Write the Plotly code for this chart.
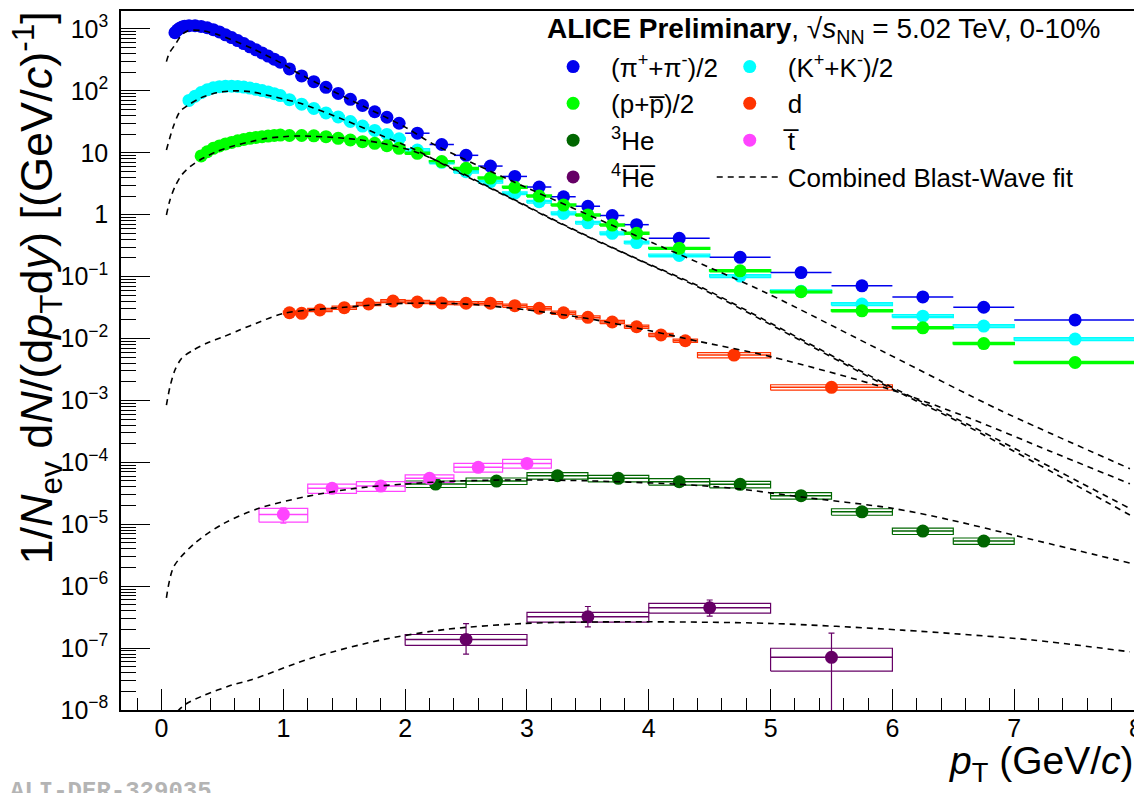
import plotly.graph_objects as go

FONT = "Liberation Sans, Arial, Helvetica, sans-serif"

# ---------------- data ----------------
pi_pt = [0.11, 0.13, 0.15, 0.17, 0.19, 0.225, 0.275, 0.325, 0.375, 0.425, 0.475, 0.525, 0.575,
         0.625, 0.675, 0.725, 0.775, 0.825, 0.875, 0.925, 0.975,
         1.05, 1.15, 1.25, 1.35, 1.45, 1.55, 1.65, 1.75, 1.85, 1.95,
         2.1, 2.3, 2.5, 2.7, 2.9, 3.1, 3.3, 3.5, 3.7, 3.9,
         4.25, 4.75, 5.25, 5.75, 6.25, 6.75, 7.5]
pi_hw = [0.01] * 5 + [0.025] * 16 + [0.05] * 10 + [0.1] * 10 + [0.25] * 6 + [0.5]
pi_y = [870, 960, 1030, 1080, 1110, 1130, 1130, 1100, 1045, 975, 895, 805, 725,
        650, 580, 515, 460, 410, 365, 325, 290,
        226, 174, 141, 114, 91, 73, 58, 46, 37.5, 30,
        20.7, 13.6, 9.1, 6.1, 4.15, 2.8, 1.95, 1.37, 0.97, 0.69,
        0.416, 0.205, 0.116, 0.071, 0.047, 0.032, 0.020]

ka_pt = [0.225, 0.275, 0.325, 0.375, 0.425, 0.475, 0.525, 0.575, 0.625, 0.675, 0.725, 0.775,
         0.825, 0.875, 0.925, 0.975,
         1.05, 1.15, 1.25, 1.35, 1.45, 1.55, 1.65, 1.75, 1.85, 1.95,
         2.1, 2.3, 2.5, 2.7, 2.9, 3.1, 3.3, 3.5, 3.7, 3.9,
         4.25, 4.75, 5.25, 5.75, 6.25, 6.75, 7.5]
ka_hw = [0.025] * 16 + [0.05] * 10 + [0.1] * 10 + [0.25] * 6 + [0.5]
ka_y = [70, 82, 94, 104, 112, 117, 119, 119, 118, 115, 111, 106, 101, 96, 90, 84,
        72, 61, 52, 44, 38, 32, 27, 23, 19.8, 16.8,
        11.1, 7.0, 4.95, 3.41, 2.22, 1.62, 1.05, 0.74, 0.50, 0.355,
        0.22, 0.102, 0.058, 0.036, 0.023, 0.0159, 0.0098]
ka_sys = 0.05

pr_pt = [0.325, 0.375, 0.425, 0.475, 0.525, 0.575, 0.625, 0.675, 0.725, 0.775, 0.825, 0.875,
         0.925, 0.975,
         1.05, 1.15, 1.25, 1.35, 1.45, 1.55, 1.65, 1.75, 1.85, 1.95,
         2.1, 2.3, 2.5, 2.7, 2.9, 3.1, 3.3, 3.5, 3.7, 3.9,
         4.25, 4.75, 5.25, 5.75, 6.25, 6.75, 7.5]
pr_hw = [0.025] * 14 + [0.05] * 10 + [0.1] * 10 + [0.25] * 6 + [0.5]
pr_y = [8.9, 10.4, 11.8, 12.9, 13.9, 14.7, 15.6, 16.4, 17.1, 17.7, 18.2, 18.6, 19.0, 19.3,
        19.0, 19.0, 18.8, 18.2, 17.1, 16.1, 15.1, 14.2, 13.0, 11.8,
        9.8, 7.2, 5.6, 3.9, 2.77, 2.0, 1.43, 0.99, 0.68, 0.50,
        0.286, 0.124, 0.057, 0.028, 0.0149, 0.0083, 0.0041]
pr_sys = 0.035

d_pt = [1.05, 1.15, 1.3, 1.5, 1.7, 1.9, 2.1, 2.3, 2.5, 2.7, 2.9, 3.1, 3.3, 3.5, 3.7, 3.9,
        4.1, 4.3, 4.7, 5.5]
d_hw = [0.05, 0.05] + [0.1] * 16 + [0.3, 0.5]
d_y = [0.0261, 0.0255, 0.0289, 0.0315, 0.0361, 0.0403, 0.0389, 0.0375, 0.0371, 0.0371,
       0.0339, 0.0308, 0.0261, 0.0220, 0.0185, 0.0155, 0.0114, 0.0092, 0.0054, 0.00163]
d_sys = [0.06] * 18 + [0.10, 0.10]

he3_pt = [2.25, 2.75, 3.25, 3.75, 4.25, 4.75, 5.25, 5.75, 6.25, 6.75]
he3_hw = [0.25] * 10
he3_y = [4.46e-5, 4.99e-5, 6.08e-5, 5.51e-5, 4.86e-5, 4.41e-5, 2.89e-5, 1.59e-5, 7.76e-6, 5.36e-6]
he3_sys = [0.12] * 10

t_pt = [1.0, 1.4, 1.8, 2.2, 2.6, 3.0]
t_hw = [0.2] * 6
t_y = [1.44e-5, 3.8e-5, 4.14e-5, 5.51e-5, 8.3e-5, 9.6e-5]
t_stat = [4.0e-6, 3.0e-6, 3.0e-6, 3.5e-6, 5.0e-6, 6.0e-6]
t_sys = [0.25, 0.17, 0.18, 0.14, 0.16, 0.16]

he4_pt = [2.5, 3.5, 4.5, 5.5]
he4_hw = [0.5] * 4
he4_y = [1.38e-7, 3.2e-7, 4.48e-7, 7.1e-8]
he4_stat_up = [1.1e-7, 1.5e-7, 1.5e-7, 1.03e-7]
he4_stat_dn = [0.58e-7, 1.0e-7, 1.2e-7, 7.09e-8]
he4_sys = [0.20, 0.18, 0.18, 0.40]

# Combined Blast-Wave fit curves
fit_pi_pt = [0.04, 0.063, 0.11, 0.165, 0.22, 0.33, 0.47, 0.74, 1.01, 1.1, 1.5, 2.0, 2.22, 2.89,
             4.04, 4.42, 4.97, 5.95, 6.88, 7.95]
fit_pi_y = [297, 405, 552, 800, 940, 940, 800, 488, 262, 204, 80, 26, 14.2, 3.4,
            0.345, 0.164, 0.054, 0.0058, 7.0e-4, 7.9e-5]
fit_ka_pt = [0.04, 0.096, 0.15, 0.22, 0.315, 0.45, 0.59, 0.73, 0.86, 1.0, 1.14, 1.5, 1.79, 2.07,
             2.34, 2.61, 2.89, 3.16, 3.44, 3.71, 3.98, 4.44, 5.98, 6.63, 7.95]
fit_ka_y = [11.1, 26.3, 46, 59, 76, 93, 100, 97, 86, 74, 63, 34, 19.5, 11.5,
            6.1, 3.25, 1.74, 0.93, 0.50, 0.285, 0.163, 0.063, 1.6e-3, 3.7e-4, 1.41e-5]
fit_pr_pt = [0.04, 0.069, 0.11, 0.165, 0.233, 0.315, 0.45, 0.59, 0.73, 0.86, 1.0, 1.14, 1.5,
             1.79, 2.07, 2.34, 2.61, 2.89, 3.16, 3.44, 3.71, 3.98, 4.44, 5.98, 6.63, 7.95]
fit_pr_y = [0.99, 1.73, 2.83, 4.38, 5.96, 7.65, 10.4, 12.9, 15.1, 17.1, 18.2, 18.7, 17.2,
            14.5, 10.6, 6.3, 3.35, 1.78, 0.95, 0.51, 0.29, 0.166, 0.066, 1.7e-3, 4.0e-4, 1.8e-5]
fit_d_pt = [0.04, 0.069, 0.11, 0.165, 0.26, 0.37, 0.51, 0.64, 0.81, 1.0, 1.5, 2.0, 2.5, 3.0,
            3.5, 4.0, 4.42, 5.0, 5.95, 6.63, 7.3, 7.95]
fit_d_y = [8.4e-4, 1.66e-3, 3.1e-3, 4.8e-3, 6.5e-3, 8.4e-3, 0.0107, 0.0137, 0.0187, 0.0255,
           0.032, 0.037, 0.036, 0.029, 0.021, 0.0135, 0.0089, 0.0051, 0.00157, 5.2e-4, 1.5e-4,
           4.5e-5]
fit_he3_pt = [0.04, 0.10, 0.27, 0.51, 0.80, 1.18, 1.59, 2.0, 2.44, 2.88, 3.47, 4.2, 4.7, 5.24,
              6.0, 6.48, 7.05, 7.95]
fit_he3_y = [6.5e-7, 2.06e-6, 4.9e-6, 1.03e-5, 1.81e-5, 2.78e-5, 3.8e-5, 4.47e-5, 5.0e-5,
             5.2e-5, 5.05e-5, 4.47e-5, 3.8e-5, 2.78e-5, 1.81e-5, 1.17e-5, 6.3e-6, 2.36e-6]
fit_he4_pt = [0.13, 0.2, 0.35, 0.57, 0.73, 1.26, 1.80, 2.33, 2.98, 3.83, 5.01, 6.08, 7.15, 7.95]
fit_he4_y = [9.5e-9, 1.25e-8, 1.73e-8, 2.5e-8, 3.04e-8, 7.2e-8, 1.35e-7, 2.0e-7, 2.5e-7,
             2.66e-7, 2.5e-7, 1.95e-7, 1.35e-7, 8.7e-8]

# axis ticks
y_tickvals = [1e-8, 1e-7, 1e-6, 1e-5, 1e-4, 1e-3, 1e-2, 1e-1, 1, 10, 100, 1000]
y_ticktext = ["10<sup>\u22128</sup>", "10<sup>\u22127</sup>", "10<sup>\u22126</sup>",
              "10<sup>\u22125</sup>", "10<sup>\u22124</sup>", "10<sup>\u22123</sup>",
              "10<sup>\u22122</sup>", "10<sup>\u22121</sup>", "1", "10",
              "10<sup>2</sup>", "10<sup>3</sup>"]

# ---------------- styles ----------------
C_PI = "#0000ee"
C_KA = "#00ffff"
C_PR = "#00ff00"
C_D = "#ff3300"
C_HE3 = "#006600"
C_T = "#ff44ff"
C_HE4 = "#660066"


def box_xy(pt, hw, y, rel):
    if not isinstance(rel, (list, tuple)):
        rel = [rel] * len(pt)
    xs, ys = [], []
    for p, w, v, r in zip(pt, hw, y, rel):
        lo, hi = v * (1 - r), v * (1 + r)
        xs += [p - w, p + w, p + w, p - w, p - w, None]
        ys += [lo, lo, hi, hi, lo, None]
    return xs, ys


fig = go.Figure()

# systematic boxes (below markers)
for pt, hw, y, rel, col, lw in [
    (ka_pt, ka_hw, ka_y, ka_sys, C_KA, 1.4),
    (pr_pt, pr_hw, pr_y, pr_sys, C_PR, 1.6),
    (d_pt, d_hw, d_y, d_sys, C_D, 1.2),
    (he3_pt, he3_hw, he3_y, he3_sys, C_HE3, 1.2),
    (t_pt, t_hw, t_y, t_sys, C_T, 1.2),
    (he4_pt, he4_hw, he4_y, he4_sys, C_HE4, 1.2),
]:
    bx, by = box_xy(pt, hw, y, rel)
    fig.add_trace(go.Scatter(x=bx, y=by, mode="lines", line=dict(color=col, width=lw),
                             showlegend=False, hoverinfo="skip"))


def data_trace(pt, hw, y, col, name, legend, ey=None, ey_minus=None):
    kw = {}
    if ey is not None:
        kw["error_y"] = dict(type="data", array=ey,
                             arrayminus=ey_minus if ey_minus is not None else ey,
                             symmetric=ey_minus is None, color=col, thickness=1.2, width=3)
    return go.Scatter(x=pt, y=y, mode="markers", name=name, legend=legend,
                      marker=dict(color=col, size=13, line=dict(width=0)),
                      error_x=dict(type="data", array=hw, color=col, thickness=1.5, width=0),
                      **kw)


fig.add_trace(data_trace(pi_pt, pi_hw, pi_y, C_PI, "(\u03c0<sup>+</sup>+\u03c0<sup>-</sup>)/2", "legend"))
fig.add_trace(data_trace(ka_pt, ka_hw, ka_y, C_KA, "(K<sup>+</sup>+K<sup>-</sup>)/2", "legend2"))
fig.add_trace(data_trace(pr_pt, pr_hw, pr_y, C_PR, "(p+p\u0305)/2", "legend"))
fig.add_trace(data_trace(d_pt, d_hw, d_y, C_D, "d", "legend2"))
fig.add_trace(data_trace(he3_pt, he3_hw, he3_y, C_HE3, "<sup>3</sup>He", "legend"))
fig.add_trace(data_trace(t_pt, t_hw, t_y, C_T, "t\u0305", "legend2", ey=t_stat))
fig.add_trace(data_trace(he4_pt, he4_hw, he4_y, C_HE4, "<sup>4</sup>H\u0305e\u0305", "legend",
                         ey=he4_stat_up, ey_minus=he4_stat_dn))

# blast-wave curves
first = True
for fx, fy in [(fit_pi_pt, fit_pi_y), (fit_ka_pt, fit_ka_y), (fit_pr_pt, fit_pr_y),
               (fit_d_pt, fit_d_y), (fit_he3_pt, fit_he3_y), (fit_he4_pt, fit_he4_y)]:
    fig.add_trace(go.Scatter(x=fx, y=fy, mode="lines", name="Combined Blast-Wave fit",
                             legend="legend2", showlegend=first,
                             line=dict(color="black", width=1.6, dash="6px,5px",
                                       shape="spline", smoothing=0.8),
                             hoverinfo="skip"))
    first = False

leg_common = dict(xanchor="left", yanchor="top", bgcolor="rgba(0,0,0,0)", borderwidth=0,
                  font=dict(family=FONT, size=26, color="black"), itemwidth=66,
                  tracegroupgap=0, traceorder="normal")

# the page adds an 8px body margin, so the figure origin sits 8px right/down of the window
fig.update_layout(
    width=1142, height=785,
    margin=dict(l=113, r=14, t=3, b=83, autoexpand=False),
    paper_bgcolor="white", plot_bgcolor="white",
    font=dict(family=FONT, color="black"),
    legend=dict(x=0.408, y=0.954, **leg_common),
    legend2=dict(x=0.582, y=0.954, **leg_common),
    xaxis=dict(range=[-0.333, 8.0], showline=True, mirror=True, linecolor="black",
               linewidth=1.5, showgrid=False, zeroline=False, automargin=False,
               tick0=0, dtick=1, ticks="inside", ticklen=21, tickwidth=1.2, tickcolor="black",
               minor=dict(dtick=0.2, ticks="inside", ticklen=12, tickwidth=1.2,
                          tickcolor="black", showgrid=False),
               tickfont=dict(family=FONT, size=25, color="black"), ticklabelstandoff=-5),
    yaxis=dict(type="log", range=[-8, 3.29], showline=True, mirror=True, linecolor="black",
               linewidth=1.5, showgrid=False, zeroline=False, automargin=False,
               tickmode="array", tickvals=y_tickvals, ticktext=y_ticktext,
               ticks="inside", ticklen=29, tickwidth=1.2, tickcolor="black",
               minor=dict(dtick="D1", ticks="inside", ticklen=15, tickwidth=1.2,
                          tickcolor="black", showgrid=False),
               tickfont=dict(family=FONT, size=25, color="black"), ticklabelstandoff=6),
)

fig.add_annotation(
    text="<b>ALICE Preliminary</b>, \u221a<i>s</i><sub>NN</sub> = 5.02 TeV, 0-10%",
    xref="paper", yref="paper", x=0.4177, y=0.9728, xanchor="left", yanchor="middle",
    showarrow=False, font=dict(family=FONT, size=28, color="black"))

fig.add_annotation(
    text="<i>p</i><sub>T</sub> (GeV/<i>c</i>)",
    xref="paper", yref="paper", x=1.0, y=-0.038, xanchor="right", yanchor="top",
    showarrow=False, font=dict(family=FONT, size=39, color="black"))

fig.add_annotation(
    text="1/<i>N</i><sub>ev</sub> d<i>N</i>/(d<i>p</i><sub>T</sub>d<i>y</i>) [(GeV/<i>c</i>)<sup>-1</sup>]",
    xref="paper", yref="paper", x=-0.0837, y=1.0014, xanchor="center", yanchor="top",
    textangle=-90, showarrow=False, font=dict(family=FONT, size=45, color="black"))

fig.add_annotation(
    text="<b>ALI-DER-329035</b>",
    xref="paper", yref="paper", x=-0.1113, y=-0.094, xanchor="left", yanchor="top",
    showarrow=False, font=dict(family="Liberation Mono, Courier New, monospace", size=24,
                               color="#b4b4b4"))

fig.write_html("out.html")
